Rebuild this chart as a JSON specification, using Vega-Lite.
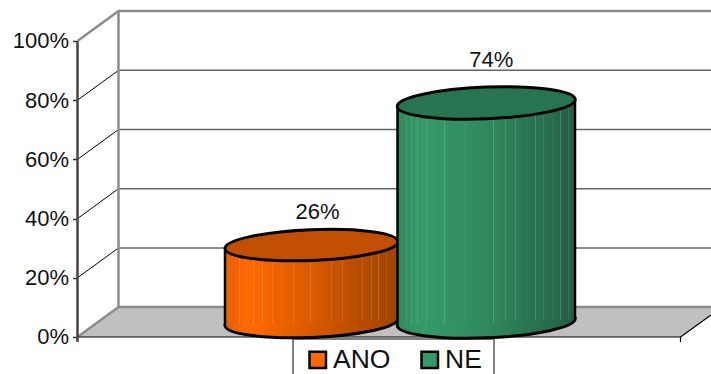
{
  "$schema": "https://vega.github.io/schema/vega-lite/v6.json",
  "width": 633.5,
  "height": 374,
  "autosize": {"type": "none"},
  "padding": {"left": 77.5, "right": 0, "top": 0, "bottom": 0},
  "background": "white",
  "config": {
    "view": {"stroke": null},
    "axisX": {"disable": true},
    "font": "Liberation Sans"
  },
  "datasets": {
    "shares": [
      {"category": "ANO", "value": 26, "label": "26%", "center": 234},
      {"category": "NE", "value": 74, "label": "74%", "center": 408.75}
    ],
    "bodies": [
      {"category": "ANO", "pos": 147.5, "top": 29.7, "base": 3.7},
      {"category": "ANO", "pos": 320.5, "top": 32.1, "base": 6.1},
      {"category": "NE", "pos": 320, "top": 77.7, "base": 3.7},
      {"category": "NE", "pos": 497.5, "top": 80.1, "base": 6.1}
    ],
    "floor": [
      {"pos": 0, "near": 0, "far": 0},
      {"pos": 41, "near": 0, "far": 10.1},
      {"pos": 603, "near": 0, "far": 10.1},
      {"pos": 633.5, "near": 7.4, "far": 10.1}
    ],
    "wallEdges": [
      {"edge": "top", "pos": 0, "level": 100},
      {"edge": "top", "pos": 41, "level": 110.1},
      {"edge": "top", "pos": 633.5, "level": 110.1},
      {"edge": "corner", "pos": 41, "level": 110.1},
      {"edge": "corner", "pos": 41, "level": 10.1},
      {"edge": "base", "pos": 0, "level": 0},
      {"edge": "base", "pos": 41, "level": 10.1},
      {"edge": "base", "pos": 633.5, "level": 10.1}
    ],
    "gridBack": [
      {"tick": 20, "pos": 41, "level": 30.1},
      {"tick": 20, "pos": 633.5, "level": 30.1},
      {"tick": 40, "pos": 41, "level": 50.1},
      {"tick": 40, "pos": 633.5, "level": 50.1},
      {"tick": 60, "pos": 41, "level": 70.1},
      {"tick": 60, "pos": 633.5, "level": 70.1},
      {"tick": 80, "pos": 41, "level": 90.1},
      {"tick": 80, "pos": 633.5, "level": 90.1}
    ],
    "gridSide": [
      {"tick": 20, "pos": 0, "level": 20},
      {"tick": 20, "pos": 41, "level": 30.1},
      {"tick": 40, "pos": 0, "level": 40},
      {"tick": 40, "pos": 41, "level": 50.1},
      {"tick": 60, "pos": 0, "level": 60},
      {"tick": 60, "pos": 41, "level": 70.1},
      {"tick": 80, "pos": 0, "level": 80},
      {"tick": 80, "pos": 41, "level": 90.1}
    ],
    "floorFront": [
      {"edge": "front", "pos": 0, "level": 0},
      {"edge": "front", "pos": 603, "level": 0},
      {"edge": "side", "pos": 603, "level": 0},
      {"edge": "side", "pos": 633.5, "level": 7.4},
      {"edge": "tick", "pos": 603, "level": 0},
      {"edge": "tick", "pos": 603, "level": -1.7}
    ],
    "axisLine": [{"pos": 0, "from": -1.7, "to": 100}],
    "legendFrame": [
      {"pos": 215.5, "level": -12.5},
      {"pos": 215.5, "level": -0.7},
      {"pos": 416.5, "level": -0.7},
      {"pos": 416.5, "level": -12.5}
    ]
  },
  "layer": [
    {
      "data": {"name": "shares"},
      "mark": {"type": "point", "filled": true, "opacity": 0, "size": 1},
      "encoding": {
        "x": {"field": "center", "type": "quantitative", "scale": {"domain": [0, 633.5], "nice": false, "zero": false}},
        "y": {
          "field": "value",
          "type": "quantitative",
          "scale": {"domain": [-12.5, 113.85], "nice": false, "zero": false},
          "axis": {
            "title": null,
            "values": [0, 20, 40, 60, 80, 100],
            "format": ".0f",
            "labelExpr": "datum.label + '%'",
            "grid": false,
            "domain": false,
            "tickSize": 5,
            "tickColor": "#333333",
            "tickWidth": 1.5,
            "labelFontSize": 22,
            "labelColor": "#111111",
            "labelPadding": 4,
            "labelFont": "Liberation Sans"
          }
        },
        "color": {
          "field": "category",
          "type": "nominal",
          "scale": {"domain": ["ANO", "NE"], "range": ["#FF6600", "#339966"]},
          "legend": {
            "title": null,
            "orient": "none",
            "legendX": 227,
            "legendY": 346.5,
            "direction": "horizontal",
            "columns": 2,
            "padding": 0,
            "columnPadding": 26,
            "symbolType": "square",
            "symbolSize": 272,
            "symbolOpacity": 1,
            "symbolStrokeColor": "#000000",
            "symbolStrokeWidth": 2.5,
            "labelFont": "Liberation Sans",
            "labelFontSize": 26.5,
            "labelColor": "#111111",
            "labelOffset": 2
          }
        }
      }
    },
    {
      "data": {"name": "floor"},
      "mark": {"type": "area", "fill": "#C0C0C0", "stroke": null},
      "encoding": {
        "x": {"field": "pos", "type": "quantitative"},
        "y": {"field": "far", "type": "quantitative"},
        "y2": {"field": "near"}
      }
    },
    {
      "data": {"name": "gridBack"},
      "mark": {"type": "line", "color": "#666666", "strokeWidth": 1.5},
      "encoding": {
        "x": {"field": "pos", "type": "quantitative"},
        "y": {"field": "level", "type": "quantitative"},
        "detail": {"field": "tick"}
      }
    },
    {
      "data": {"name": "gridSide"},
      "mark": {"type": "line", "color": "#000000", "strokeWidth": 1},
      "encoding": {
        "x": {"field": "pos", "type": "quantitative"},
        "y": {"field": "level", "type": "quantitative"},
        "detail": {"field": "tick"}
      }
    },
    {
      "data": {"name": "wallEdges"},
      "mark": {"type": "line", "color": "#8C8C8C", "strokeWidth": 2.5},
      "encoding": {
        "x": {"field": "pos", "type": "quantitative"},
        "y": {"field": "level", "type": "quantitative"},
        "detail": {"field": "edge"}
      }
    },
    {
      "data": {"name": "floorFront"},
      "mark": {"type": "line", "color": "#000000", "strokeWidth": 1.2},
      "encoding": {
        "x": {"field": "pos", "type": "quantitative"},
        "y": {"field": "level", "type": "quantitative"},
        "detail": {"field": "edge"}
      }
    },
    {
      "data": {"name": "axisLine"},
      "mark": {"type": "rule", "color": "#444444", "strokeWidth": 2.5},
      "encoding": {
        "x": {"field": "pos", "type": "quantitative"},
        "y": {"field": "from", "type": "quantitative"},
        "y2": {"field": "to"}
      }
    },
    {
      "data": {"name": "legendFrame"},
      "mark": {"type": "line", "color": "#555555", "strokeWidth": 1.5},
      "encoding": {
        "x": {"field": "pos", "type": "quantitative", "sort": null},
        "y": {"field": "level", "type": "quantitative"},
        "order": {"field": "pos", "type": "quantitative"}
      }
    },
    {
      "data": {"name": "shares"},
      "transform": [{"filter": "datum.category === 'ANO'"}],
      "mark": {
        "type": "point", "filled": true, "yOffset": -15, "opacity": 1, "size": 29929,
        "shape": "M-1,0.04 A1,0.178 -2.3 1 1 1,-0.04 A1,0.178 -2.3 1 1 -1,0.04 Z",
        "stroke": "#000000", "strokeWidth": 3,
        "fill": {
          "gradient": "linear", "x1": 0, "y1": 0, "x2": 1, "y2": 0,
          "stops": [
            {"offset": 0, "color": "#E86000"},
            {"offset": 0.15, "color": "#FF6A00"},
            {"offset": 0.7, "color": "#C05000"},
            {"offset": 1, "color": "#A04300"}
          ]
        }
      },
      "encoding": {
        "x": {"field": "center", "type": "quantitative"},
        "y": {"datum": 0, "type": "quantitative"}
      }
    },
    {
      "data": {"name": "bodies"},
      "transform": [{"filter": "datum.category === 'ANO'"}],
      "mark": {
        "type": "area", "stroke": null,
        "fill": {
          "gradient": "linear", "x1": 0, "y1": 0, "x2": 1, "y2": 0,
          "stops": [
            {"offset": 0, "color": "#E86000"},
            {"offset": 0.08, "color": "#F46500"}, {"offset": 0.083, "color": "#F68433"}, {"offset": 0.086, "color": "#F46500"},
            {"offset": 0.118, "color": "#FA6800"}, {"offset": 0.121, "color": "#FB8633"}, {"offset": 0.124, "color": "#FA6800"},
            {"offset": 0.161, "color": "#FD6900"}, {"offset": 0.164, "color": "#FD8733"}, {"offset": 0.167, "color": "#FD6900"},
            {"offset": 0.213, "color": "#F76700"}, {"offset": 0.216, "color": "#F88533"}, {"offset": 0.219, "color": "#F76700"},
            {"offset": 0.27, "color": "#F06400"}, {"offset": 0.273, "color": "#F38333"}, {"offset": 0.276, "color": "#F06400"},
            {"offset": 0.325, "color": "#EA6100"}, {"offset": 0.328, "color": "#EE8133"}, {"offset": 0.331, "color": "#EA6100"},
            {"offset": 0.392, "color": "#E35F00"}, {"offset": 0.395, "color": "#E97F33"}, {"offset": 0.398, "color": "#E35F00"},
            {"offset": 0.492, "color": "#DA5B00"}, {"offset": 0.495, "color": "#E17C33"}, {"offset": 0.498, "color": "#DA5B00"},
            {"offset": 0.614, "color": "#CA5400"}, {"offset": 0.617, "color": "#D57633"}, {"offset": 0.62, "color": "#CA5400"},
            {"offset": 0.675, "color": "#C45100"}, {"offset": 0.678, "color": "#D07433"}, {"offset": 0.681, "color": "#C45100"},
            {"offset": 0.793, "color": "#B54B00"}, {"offset": 0.796, "color": "#C46F33"}, {"offset": 0.799, "color": "#B54B00"},
            {"offset": 0.843, "color": "#AE4900"}, {"offset": 0.846, "color": "#BE6D33"}, {"offset": 0.849, "color": "#AE4900"},
            {"offset": 0.884, "color": "#A94600"}, {"offset": 0.887, "color": "#BA6B33"}, {"offset": 0.89, "color": "#A94600"},
            {"offset": 0.932, "color": "#A54500"}, {"offset": 0.935, "color": "#B76A33"}, {"offset": 0.938, "color": "#A54500"},
            {"offset": 1, "color": "#A04300"}
          ]
        }
      },
      "encoding": {
        "x": {"field": "pos", "type": "quantitative"},
        "y": {"field": "top", "type": "quantitative"},
        "y2": {"field": "base"}
      }
    },
    {
      "data": {"name": "bodies"},
      "transform": [{"filter": "datum.category === 'ANO'"}],
      "mark": {"type": "rule", "color": "#000000", "strokeWidth": 2.5},
      "encoding": {
        "x": {"field": "pos", "type": "quantitative"},
        "y": {"field": "top", "type": "quantitative"},
        "y2": {"field": "base"}
      }
    },
    {
      "data": {"name": "shares"},
      "transform": [{"filter": "datum.category === 'ANO'"}],
      "mark": {
        "type": "point", "filled": true, "yOffset": -15, "opacity": 1, "size": 29929,
        "shape": "M-1,0.04 A1,0.178 -2.3 1 1 1,-0.04 A1,0.178 -2.3 1 1 -1,0.04 Z",
        "stroke": "#000000", "strokeWidth": 3,
        "fill": "#C24F00"
      },
      "encoding": {
        "x": {"field": "center", "type": "quantitative"},
        "y": {"field": "value", "type": "quantitative"}
      }
    },
    {
      "data": {"name": "shares"},
      "transform": [{"filter": "datum.category === 'ANO'"}],
      "mark": {"type": "text", "dy": -48, "dx": 6, "fontSize": 22, "font": "Liberation Sans", "color": "#111111"},
      "encoding": {
        "x": {"field": "center", "type": "quantitative"},
        "y": {"field": "value", "type": "quantitative"},
        "text": {"field": "label"}
      }
    },
    {
      "data": {"name": "shares"},
      "transform": [{"filter": "datum.category === 'NE'"}],
      "mark": {
        "type": "point", "filled": true, "yOffset": -15, "opacity": 1, "size": 31684,
        "shape": "M-1,0.04 A1,0.178 -2.3 1 1 1,-0.04 A1,0.178 -2.3 1 1 -1,0.04 Z",
        "stroke": "#000000", "strokeWidth": 3,
        "fill": {
          "gradient": "linear", "x1": 0, "y1": 0, "x2": 1, "y2": 0,
          "stops": [
            {"offset": 0, "color": "#2F8A5C"},
            {"offset": 0.15, "color": "#359A69"},
            {"offset": 0.5, "color": "#30895E"},
            {"offset": 1, "color": "#235F44"}
          ]
        }
      },
      "encoding": {
        "x": {"field": "center", "type": "quantitative"},
        "y": {"datum": 0, "type": "quantitative"}
      }
    },
    {
      "data": {"name": "bodies"},
      "transform": [{"filter": "datum.category === 'NE'"}],
      "mark": {
        "type": "area", "stroke": null,
        "fill": {
          "gradient": "linear", "x1": 0, "y1": 0, "x2": 1, "y2": 0,
          "stops": [
            {"offset": 0, "color": "#2F8A5C"},
            {"offset": 0.049, "color": "#318F60"}, {"offset": 0.052, "color": "#5AA580"}, {"offset": 0.055, "color": "#318F60"},
            {"offset": 0.077, "color": "#329364"}, {"offset": 0.08, "color": "#5BA983"}, {"offset": 0.083, "color": "#329364"},
            {"offset": 0.111, "color": "#349867"}, {"offset": 0.114, "color": "#5DAD85"}, {"offset": 0.117, "color": "#349867"},
            {"offset": 0.162, "color": "#359A69"}, {"offset": 0.165, "color": "#5DAE87"}, {"offset": 0.168, "color": "#359A69"},
            {"offset": 0.261, "color": "#339466"}, {"offset": 0.264, "color": "#5CA985"}, {"offset": 0.267, "color": "#339466"},
            {"offset": 0.378, "color": "#318E62"}, {"offset": 0.381, "color": "#5AA581"}, {"offset": 0.384, "color": "#318E62"},
            {"offset": 0.538, "color": "#2F875D"}, {"offset": 0.541, "color": "#599F7D"}, {"offset": 0.544, "color": "#2F875D"},
            {"offset": 0.604, "color": "#2D8058"}, {"offset": 0.607, "color": "#579979"}, {"offset": 0.61, "color": "#2D8058"},
            {"offset": 0.661, "color": "#2C7B55"}, {"offset": 0.664, "color": "#569577"}, {"offset": 0.667, "color": "#2C7B55"},
            {"offset": 0.721, "color": "#2B7652"}, {"offset": 0.724, "color": "#559175"}, {"offset": 0.727, "color": "#2B7652"},
            {"offset": 0.774, "color": "#2A7150"}, {"offset": 0.777, "color": "#558D73"}, {"offset": 0.78, "color": "#2A7150"},
            {"offset": 0.821, "color": "#28704E"}, {"offset": 0.824, "color": "#538D71"}, {"offset": 0.827, "color": "#28704E"},
            {"offset": 0.868, "color": "#276C4C"}, {"offset": 0.871, "color": "#528971"}, {"offset": 0.874, "color": "#276C4C"},
            {"offset": 0.915, "color": "#26674A"}, {"offset": 0.918, "color": "#51856E"}, {"offset": 0.921, "color": "#26674A"},
            {"offset": 0.962, "color": "#246247"}, {"offset": 0.965, "color": "#50816C"}, {"offset": 0.968, "color": "#246247"},
            {"offset": 1, "color": "#235F44"}
          ]
        }
      },
      "encoding": {
        "x": {"field": "pos", "type": "quantitative"},
        "y": {"field": "top", "type": "quantitative"},
        "y2": {"field": "base"}
      }
    },
    {
      "data": {"name": "bodies"},
      "transform": [{"filter": "datum.category === 'NE'"}],
      "mark": {"type": "rule", "color": "#000000", "strokeWidth": 2.5},
      "encoding": {
        "x": {"field": "pos", "type": "quantitative"},
        "y": {"field": "top", "type": "quantitative"},
        "y2": {"field": "base"}
      }
    },
    {
      "data": {"name": "shares"},
      "transform": [{"filter": "datum.category === 'NE'"}],
      "mark": {
        "type": "point", "filled": true, "yOffset": -15, "opacity": 1, "size": 31684,
        "shape": "M-1,0.04 A1,0.178 -2.3 1 1 1,-0.04 A1,0.178 -2.3 1 1 -1,0.04 Z",
        "stroke": "#000000", "strokeWidth": 3,
        "fill": "#267550"
      },
      "encoding": {
        "x": {"field": "center", "type": "quantitative"},
        "y": {"field": "value", "type": "quantitative"}
      }
    },
    {
      "data": {"name": "shares"},
      "transform": [{"filter": "datum.category === 'NE'"}],
      "mark": {"type": "text", "dy": -58, "dx": 5, "fontSize": 22, "font": "Liberation Sans", "color": "#111111"},
      "encoding": {
        "x": {"field": "center", "type": "quantitative"},
        "y": {"field": "value", "type": "quantitative"},
        "text": {"field": "label"}
      }
    }
  ]
}
